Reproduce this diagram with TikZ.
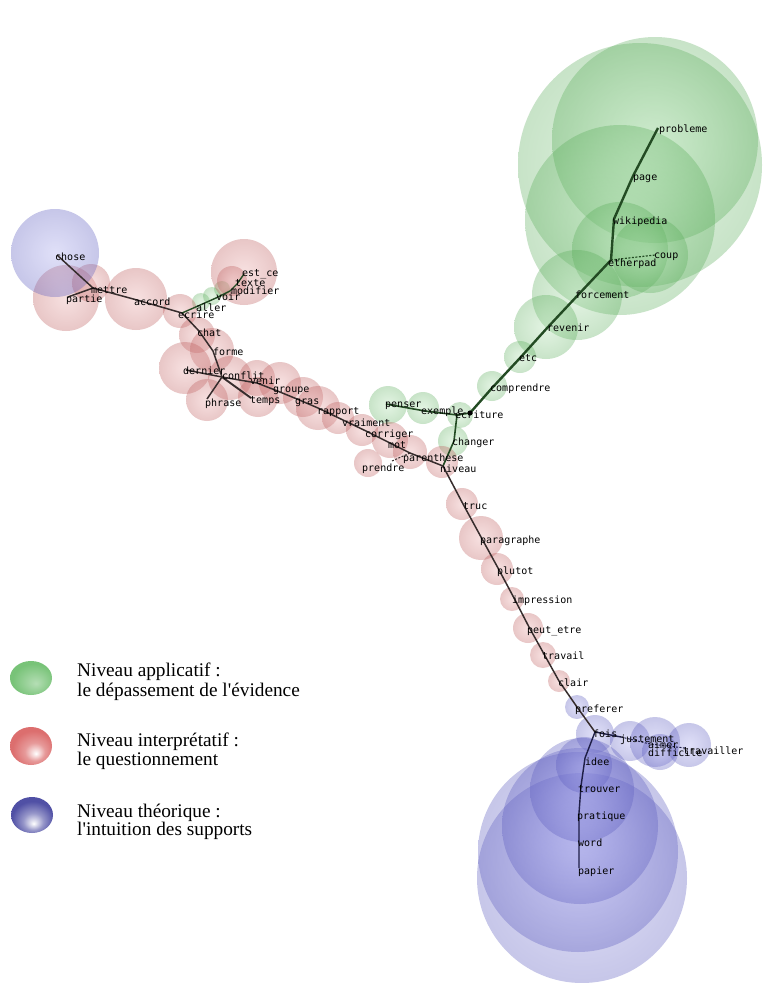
\documentclass[tikz,border=0pt]{standalone}
\usepackage{fontspec}
\newfontfamily\legfont{Liberation Serif}
\newfontfamily\lblfont{DejaVu Sans Mono}
\definecolor{gbase}{RGB}{70,185,70}
\definecolor{pbase}{RGB}{215,90,90}
\definecolor{bbase}{RGB}{80,80,220}
\definecolor{lineg}{RGB}{35,75,35}
\definecolor{linep}{RGB}{55,45,45}
\definecolor{lineb}{RGB}{30,30,70}
\definecolor{legg}{RGB}{120,195,120}
\definecolor{legp}{RGB}{220,110,110}
\definecolor{legb}{RGB}{80,80,165}
\pgfdeclareradialshading{leggsh}{\pgfpoint{6bp}{-8bp}}{color(0bp)=(legg!55!white); color(25bp)=(legg); color(50bp)=(legg)}
\pgfdeclareradialshading{legpsh}{\pgfpoint{6bp}{-10bp}}{color(0bp)=(white); color(12bp)=(legp!70!white); color(25bp)=(legp); color(50bp)=(legp)}
\pgfdeclareradialshading{legbsh}{\pgfpoint{2bp}{-12bp}}{color(0bp)=(white); color(12bp)=(legb!60!white); color(25bp)=(legb); color(50bp)=(legb)}
\tikzset{
 gball/.style={shading=radial, inner color=gbase!45!white, outer color=gbase!75!gray, opacity=0.32},
 pball/.style={shading=radial, inner color=pbase!50!white, outer color=pbase!75!gray, opacity=0.36},
 bball/.style={shading=radial, inner color=bbase!50!white, outer color=bbase!70!gray, opacity=0.35},
 lbl/.style={font=\lblfont\fontsize{10}{10}\selectfont, anchor=base west, inner sep=0pt, text=black},
 legtxt/.style={font=\legfont\fontsize{19.3}{22}\selectfont, anchor=base west, inner sep=0pt},
 edgeg/.style={draw=lineg, line width=2pt, line join=round},
 edgep/.style={draw=linep, line width=1.5pt, line join=round},
 edgeb/.style={draw=lineb, line width=1.4pt, line join=round},
 dotted2/.style={dash pattern=on 2pt off 1.5pt},
}
\begin{document}
\begin{tikzpicture}[x=1pt,y=-1pt]
\useasboundingbox (0,0) rectangle (764,983);
\fill[white] (0,0) rectangle (764,983);

% ---- green spheres
\shade[gball] (640,165) circle[radius=122pt];
\shade[gball] (655,140) circle[radius=103pt];
\shade[gball] (620,220) circle[radius=95pt];
\shade[gball] (620,250) circle[radius=48pt];
\shade[gball] (650,255) circle[radius=38pt];
\shade[gball] (577,295) circle[radius=45pt];
\shade[gball] (546,327) circle[radius=32pt];
\shade[gball] (520,357) circle[radius=16pt];
\shade[gball] (492,386) circle[radius=15pt];
\shade[gball] (460,415) circle[radius=13pt];
\shade[gball] (453,441) circle[radius=15pt];
\shade[gball] (423,408) circle[radius=16pt];
\shade[gball] (388,405) circle[radius=19pt];
\shade[gball] (201,302) circle[radius=9pt];
\shade[gball] (212,296) circle[radius=9pt];
\shade[gball] (222,289) circle[radius=8pt];

% ---- pink spheres
\shade[pball] (244,272) circle[radius=33pt];
\shade[pball] (232,281) circle[radius=15pt];
\shade[pball] (66,298) circle[radius=33pt];
\shade[pball] (91,283) circle[radius=19pt];
\shade[pball] (136,299) circle[radius=31pt];
\shade[pball] (180,311) circle[radius=17pt];
\shade[pball] (197,335) circle[radius=18pt];
\shade[pball] (212,350) circle[radius=22pt];
\shade[pball] (185,368) circle[radius=26pt];
\shade[pball] (230,378) circle[radius=22pt];
\shade[pball] (207,400) circle[radius=21pt];
\shade[pball] (257,378) circle[radius=18pt];
\shade[pball] (258,397) circle[radius=20pt];
\shade[pball] (280,383) circle[radius=21pt];
\shade[pball] (303,397) circle[radius=20pt];
\shade[pball] (318,408) circle[radius=22pt];
\shade[pball] (338,418) circle[radius=16pt];
\shade[pball] (362,430) circle[radius=16pt];
\shade[pball] (390,440) circle[radius=18pt];
\shade[pball] (410,452) circle[radius=17pt];
\shade[pball] (368,463) circle[radius=14pt];
\shade[pball] (442,462) circle[radius=16pt];
\shade[pball] (462,504) circle[radius=16pt];
\shade[pball] (481,538) circle[radius=22pt];
\shade[pball] (497,569) circle[radius=16pt];
\shade[pball] (512,599) circle[radius=12pt];
\shade[pball] (528,628) circle[radius=15pt];
\shade[pball] (543,655) circle[radius=13pt];
\shade[pball] (559,681) circle[radius=11pt];

% ---- blue spheres
\shade[bball] (55,253) circle[radius=44pt];
\shade[bball] (577,707) circle[radius=12pt];
\shade[bball] (595,734) circle[radius=19pt];
\shade[bball] (630,741) circle[radius=20pt];
\shade[bball] (655,742) circle[radius=25pt];
\shade[bball] (660,752) circle[radius=18pt];
\shade[bball] (689,745) circle[radius=22pt];
\shade[bball] (582,878) circle[radius=105pt];
\shade[bball] (578,852) circle[radius=100pt];
\shade[bball] (580,826) circle[radius=78pt];
\shade[bball] (582,790) circle[radius=52pt];
\shade[bball] (584,765) circle[radius=28pt];

% ---- vertices
\coordinate (probleme) at (658,128);
\coordinate (page) at (633,176);
\coordinate (wikipedia) at (614,219);
\coordinate (etherpad) at (611,260);
\coordinate (coup) at (655,255);
\coordinate (forcement) at (578,295);
\coordinate (revenir) at (548,327);
\coordinate (etc) at (520,358);
\coordinate (comprendre) at (492,388);
\coordinate (dot) at (470,413);
\coordinate (ecriture) at (457,415);
\coordinate (exemple) at (425,411);
\coordinate (penser) at (386,404);
\coordinate (changer) at (454,441);
\coordinate (niveau) at (443,466);

\coordinate (chose) at (57,255);
\coordinate (mettre) at (93,288);
\coordinate (partie) at (68,297);
\coordinate (accord) at (137,300);
\coordinate (ecrire) at (182,313);
\coordinate (aller) at (198,306);
\coordinate (voir) at (216,298);
\coordinate (modifier) at (230,291);
\coordinate (texte) at (237,284);
\coordinate (estce) at (244,274);
\coordinate (chat) at (199,331);
\coordinate (forme) at (213,351);
\coordinate (conflit) at (222,377);
\coordinate (dernier) at (186,370);
\coordinate (phrase) at (207,399);
\coordinate (temps) at (251,398);
\coordinate (venir) at (257,383);
\coordinate (groupe) at (275,390);
\coordinate (gras) at (297,399);
\coordinate (rapport) at (318,408);
\coordinate (vraiment) at (343,420);
\coordinate (corriger) at (366,431);
\coordinate (mot) at (390,443);
\coordinate (parenthese) at (410,453);
\coordinate (prendre) at (392,461);

\coordinate (truc) at (463,504);
\coordinate (paragraphe) at (481,537);
\coordinate (plutot) at (498,568);
\coordinate (impression) at (514,598);
\coordinate (peutetre) at (529,627);
\coordinate (travail) at (544,654);
\coordinate (clair) at (559,681);
\coordinate (preferer) at (577,707);
\coordinate (fois) at (595,732);
\coordinate (justement) at (621,737);
\coordinate (aimer) at (650,744);
\coordinate (difficile) at (652,750);
\coordinate (travailler) at (685,748);
\coordinate (idee) at (585,758);
\coordinate (trouver) at (581,786);
\coordinate (pratique) at (579,813);
\coordinate (word) at (579,840);
\coordinate (papier) at (579,868);

% ---- connectors
\draw[edgeg, line width=2.4pt] (probleme) -- (page) -- (wikipedia) -- (etherpad) -- (forcement) -- (revenir) -- (etc) -- (comprendre) -- (dot);
\draw[edgeg, line width=1.2pt, dotted2] (etherpad) -- (coup);
\draw[edgeg, line width=1.6pt] (penser) -- (exemple) -- (ecriture) -- (dot);
\draw[edgeg, line width=1.6pt] (ecriture) -- (changer) -- (niveau);
\fill[black] (dot) circle[radius=2.6pt];

\draw[edgep] (chose) -- (mettre) -- (accord) -- (ecrire) -- (chat) -- (forme) -- (conflit);
\draw[edgep] (partie) -- (mettre);
\draw[edgeg, line width=1.4pt] (ecrire) .. controls (aller) .. (voir) -- (modifier) -- (texte) -- (estce);
\draw[edgep] (conflit) -- (dernier);
\draw[edgep] (conflit) -- (phrase);
\draw[edgep, line width=1.9pt] (conflit) -- (temps);
\draw[edgep] (conflit) -- (venir) -- (groupe) -- (gras) -- (rapport) -- (vraiment) -- (corriger) -- (mot) -- (parenthese) -- (niveau);
\draw[edgep, line width=1pt, dotted2] (prendre) -- (parenthese);

\draw[edgep] (niveau) -- (truc) -- (paragraphe) -- (plutot) -- (impression) -- (peutetre) -- (travail) -- (clair) -- (preferer) -- (fois);
\draw[edgeb] (fois) -- (idee) -- (trouver) -- (pratique) -- (word) -- (papier);
\draw[edgeb] (fois) -- (justement);
\draw[edgeb, line width=1pt, dotted2] (justement) -- (aimer) -- (travailler);

% ---- labels
\node[lbl] (t-probleme) at (659,132) {probleme};
\node[lbl] (t-page) at (633,180) {page};
\node[lbl] (t-wikipedia) at (613,224) {wikipedia};
\node[lbl] (t-coup) at (654,258) {coup};
\node[lbl] (t-etherpad) at (608,266) {etherpad};
\node[lbl] (t-forcement) at (575,298) {forcement};
\node[lbl] (t-revenir) at (547,331) {revenir};
\node[lbl] (t-etc) at (519,361) {etc};
\node[lbl] (t-comprendre) at (490,391) {comprendre};
\node[lbl] (t-ecriture) at (455,418) {ecriture};
\node[lbl] (t-exemple) at (421,414) {exemple};
\node[lbl] (t-penser) at (385,407) {penser};
\node[lbl] (t-changer) at (452,445) {changer};

\node[lbl] (t-chose) at (55,260) {chose};
\node[lbl] (t-mettre) at (91,293) {mettre};
\node[lbl] (t-partie) at (66,302) {partie};
\node[lbl] (t-accord) at (134,305) {accord};
\node[lbl] (t-ecrire) at (178,318) {ecrire};
\node[lbl] (t-aller) at (196,311) {aller};
\node[lbl] (t-voir) at (216,300) {voir};
\node[lbl] (t-modifier) at (231,294) {modifier};
\node[lbl] (t-texte) at (235,286) {texte};
\node[lbl] (t-estce) at (242,276) {est\_ce};
\node[lbl] (t-chat) at (197,336) {chat};
\node[lbl] (t-forme) at (213,355) {forme};
\node[lbl] (t-dernier) at (183,374) {dernier};
\node[lbl] (t-conflit) at (222,379) {conflit};
\node[lbl] (t-venir) at (250,384) {venir};
\node[lbl] (t-groupe) at (273,392) {groupe};
\node[lbl] (t-phrase) at (205,406) {phrase};
\node[lbl] (t-temps) at (250,403) {temps};
\node[lbl] (t-gras) at (295,404) {gras};
\node[lbl] (t-rapport) at (317,414) {rapport};
\node[lbl] (t-vraiment) at (342,426) {vraiment};
\node[lbl] (t-corriger) at (365,437) {corriger};
\node[lbl] (t-mot) at (388,448) {mot};
\node[lbl] (t-parenthese) at (403,461) {parenthese};
\node[lbl] (t-prendre) at (362,471) {prendre};
\node[lbl] (t-niveau) at (440,472) {niveau};

\node[lbl] (t-truc) at (463,509) {truc};
\node[lbl] (t-paragraphe) at (480,543) {paragraphe};
\node[lbl] (t-plutot) at (497,574) {plutot};
\node[lbl] (t-impression) at (512,603) {impression};
\node[lbl] (t-peutetre) at (527,633) {peut\_etre};
\node[lbl] (t-travail) at (542,659) {travail};
\node[lbl] (t-clair) at (558,686) {clair};
\node[lbl] (t-preferer) at (575,712) {preferer};
\node[lbl] (t-fois) at (593,737) {fois};
\node[lbl] (t-justement) at (620,742) {justement};
\node[lbl] (t-aimer) at (648,748) {aimer};
\node[lbl] (t-difficile) at (648,756) {difficile};
\node[lbl] (t-travailler) at (683,754) {travailler};
\node[lbl] (t-idee) at (585,765) {idee};
\node[lbl] (t-trouver) at (578,792) {trouver};
\node[lbl] (t-pratique) at (577,819) {pratique};
\node[lbl] (t-word) at (578,846) {word};
\node[lbl] (t-papier) at (578,874) {papier};

% ---- legend
\shade[shading=leggsh] (31,678) ellipse[x radius=21pt, y radius=17pt];
\shade[shading=legpsh] (31,746) ellipse[x radius=21pt, y radius=19pt];
\shade[shading=legbsh] (32,815) ellipse[x radius=21pt, y radius=18pt];
\node[legtxt] (l1a) at (77,676) {Niveau applicatif :};
\node[legtxt] (l1b) at (77,696) {le dépassement de l'évidence};
\node[legtxt] (l2a) at (77,746) {Niveau interprétatif :};
\node[legtxt] (l2b) at (77,765) {le questionnement};
\node[legtxt] (l3a) at (77,817) {Niveau théorique :};
\node[legtxt] (l3b) at (77,835) {l'intuition des supports};
\end{tikzpicture}
\end{document}
